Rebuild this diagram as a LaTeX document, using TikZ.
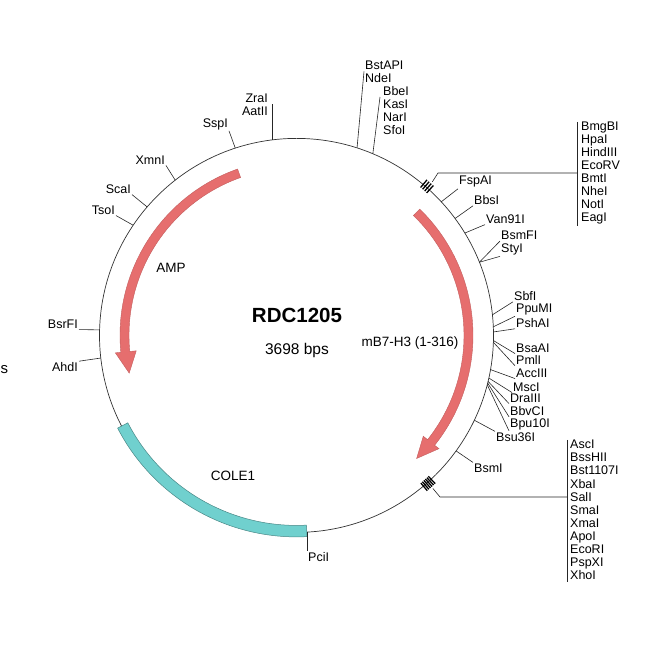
\documentclass[tikz,border=0pt]{standalone}
\usepackage{fontspec}
\setmainfont{Liberation Sans}
\usetikzlibrary{calc}

\definecolor{ampred}{RGB}{230,110,110}
\definecolor{colecyan}{RGB}{112,208,206}

\begin{document}
\begin{tikzpicture}[x=1pt,y=1pt,
    site/.style={font=\fontsize{12.5}{13.1}\selectfont, inner sep=1pt},
    feat/.style={font=\fontsize{13.5}{16}\selectfont},
    leader/.style={line width=0.6pt, black!85}]
    \useasboundingbox (0,0) rectangle (650,650);
    \coordinate (c) at (296.5,314.6);

    % Draw the plasmid backbone
    \draw[line width=0.7pt, black!80] (c) circle(197);

    % Draw the COLE1 band
    \filldraw[fill=colecyan, draw=colecyan!65!black, line width=0.5pt]
      ($(c)+(207.4:201.5)$) arc[start angle=207.4, end angle=273, radius=201.5]
      -- ($(c)+(273:190)$) arc[start angle=273, end angle=207.4, radius=190] -- cycle;

    % Draw the AMP arrow
    \filldraw[fill=ampred, draw=ampred!85!black, line width=0.4pt]
      ($(c)+(109.5:176.5)$) arc[start angle=109.5, end angle=185.5, radius=176.5]
      -- ($(c)+(185.5:182)$) -- ($(c)+(192.7:171.5)$) -- ($(c)+(185.5:161)$)
      -- ($(c)+(185.5:167.5)$) arc[start angle=185.5, end angle=109.5, radius=167.5] -- cycle;

    % Draw the mB7-H3 arrow
    \filldraw[fill=ampred, draw=ampred!85!black, line width=0.4pt]
      ($(c)+(45.7:176.5)$) arc[start angle=45.7, end angle=-38.5, radius=176.5]
      -- ($(c)+(-38.5:182)$) -- ($(c)+(-45.7:172)$) -- ($(c)+(-38.5:162)$)
      -- ($(c)+(-38.5:167.5)$) arc[start angle=-38.5, end angle=45.7, radius=167.5] -- cycle;

    % Single cut sites
    \foreach \ang/\nm/\x/\y/\p/\q/\lbl in {
        108.1/sspi/229/526/east/south east/SspI,
        128/xmni/166/490/east/south east/XmnI,
        139.3/scai/132/461/east/south east/ScaI,
        146/tsoi/116/440/east/south east/TsoI,
        178.4/bsrfi/79/326/east/south east/BsrFI,
        186.6/ahdi/79/283/east/north east/AhdI,
        42.7/fspai/458/468/west/south west/FspAI,
        36.4/bbsi/473/450/west/south west/BbsI,
        31.3/vanni/485/431/west/south west/Van91I,
        21.8/bsmfi/500/414.5/west/south west/BsmFI,
        21.8/styi/500/400.5/west/south west/StyI,
        6/sbfi/513/354/west/south west/SbfI,
        2.5/ppumi/515/340.5/west/south west/PpuMI,
        1/pshai/515/327/west/south west/PshAI,
        -1.5/bsaai/515/302/west/south west/BsaAI,
        -2/pmli/515/290/west/south west/PmlI,
        -10/acciii/515/277/west/south west/AccIII,
        -12.5/msci/512/263/west/south west/MscI,
        -13.5/draiii/509/252/west/south west/DraIII,
        -14/bbvci/509/239/west/south west/BbvCI,
        -14.5/bputen/509/226/west/south west/Bpu10I,
        -25.5/bsu/495/213/west/north west/Bsu36I,
        -35.9/bsmi/473/182/west/north west/BsmI}
    {
        \coordinate (s-\nm) at ($(c)+(\ang:197)$);
        \node[site, anchor=\p] (\nm) at (\x,\y) {\lbl};
        \draw[leader] (s-\nm) -- (\nm.\q);
    }

    % Stacked labels on the top
    \coordinate (s-zrai) at ($(c)+(97.1:197)$);
    \node[site, align=right, anchor=east] (zrai) at (269,545.5) {ZraI\\AatII};
    \draw[leader] (s-zrai) -- (s-zrai |- zrai.east);

    \coordinate (s-bstapi) at ($(c)+(72.1:197)$);
    \node[site, align=left, anchor=west] (bstapi) at (364,578.5) {BstAPI\\NdeI};
    \draw[leader] (s-bstapi) -- (bstapi.west);

    \coordinate (s-bbei) at ($(c)+(67.2:197)$);
    \coordinate (t-bbei) at (380,553);
    \node[site, align=left, anchor=west] (bbei) at (382,539.5) {BbeI\\KasI\\NarI\\SfoI};
    \draw[leader] (s-bbei) -- (t-bbei);

    % Upper multiple cloning site
    \foreach \ang in {47.6,48.4,49.2,50}
        \draw[line width=1.3pt] ($(c)+(\ang:193)$) -- ($(c)+(\ang:203)$);
    \coordinate (s-mcsa) at ($(c)+(48.5:205)$);
    \coordinate (k-mcsa) at (438,477);
    \coordinate (bartopa) at (577,528);
    \coordinate (barbota) at (577,424);
    \node[site, align=left, anchor=west] (mcsa) at (580,477)
      {BmgBI\\HpaI\\HindIII\\EcoRV\\BmtI\\NheI\\NotI\\EagI};
    \draw[leader] (s-mcsa) -- (k-mcsa) -- (k-mcsa -| bartopa);
    \draw[leader] (bartopa) -- (barbota);

    % Lower multiple cloning site
    \foreach \ang in {-46.9,-47.5,-48.1,-48.7,-49.3,-49.9}
        \draw[line width=1.3pt] ($(c)+(\ang:193)$) -- ($(c)+(\ang:203)$);
    \coordinate (s-mcsb) at ($(c)+(-48.3:205)$);
    \coordinate (k-mcsb) at (440,153);
    \coordinate (bartopb) at (567,210);
    \coordinate (barbotb) at (567,68);
    \node[site, align=left, anchor=west] (mcsb) at (569,140)
      {AscI\\BssHII\\Bst1107I\\XbaI\\SalI\\SmaI\\XmaI\\ApoI\\EcoRI\\PspXI\\XhoI};
    \draw[leader] (s-mcsb) -- (k-mcsb) -- (k-mcsb -| bartopb);
    \draw[leader] (bartopb) -- (barbotb);

    % PciI at the bottom
    \coordinate (s-pcii) at ($(c)+(-86.9:197)$);
    \node[site, anchor=north west] (pcii) at (307,99) {PciI};
    \draw[leader] (s-pcii) -- (s-pcii |- pcii.north west);

    % Names in the middle
    \node[font=\bfseries\fontsize{20.5}{24}\selectfont] (title) at (297,335) {RDC1205};
    \node[font=\fontsize{15.5}{18}\selectfont] (size) at (297,300) {3698 bps};
    \node[feat] (amp) at (171,382) {AMP};
    \node[feat] (mbh) at (410,307) {mB7-H3 (1-316)};
    \node[feat] (cole) at (233,174) {COLE1};
    \node[font=\fontsize{15}{18}\selectfont, anchor=west, inner sep=0.5pt] (frag) at (0,280) {s};
\end{tikzpicture}
\end{document}
